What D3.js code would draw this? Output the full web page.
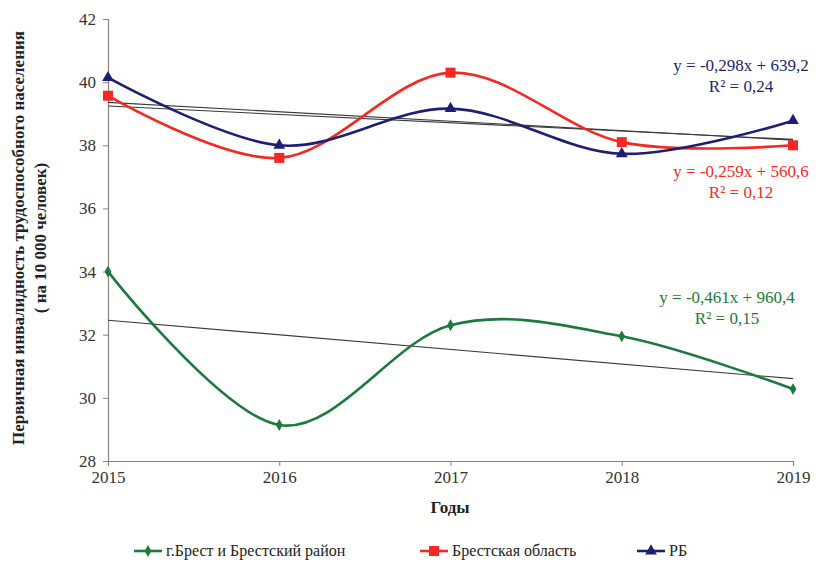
<!DOCTYPE html>
<html>
<head>
<meta charset="utf-8">
<script src="https://cdn.jsdelivr.net/npm/d3@7"></script>
<style>
body{margin:0;background:#fff;}
svg text{font-family:"Liberation Serif","Times New Roman","DejaVu Serif",serif;}
</style>
</head>
<body>
<svg id="chart" width="821" height="566"></svg>
<script>
const years = [2015, 2016, 2017, 2018, 2019];
const brestCity = [34.0, 29.14, 32.3, 31.95, 30.28];
const brestRegion = [39.57, 37.6, 40.3, 38.1, 38.0];
const rb = [40.14, 38.0, 39.16, 37.73, 38.78];
const yTicks = [28, 30, 32, 34, 36, 38, 40, 42];

const series = [
  {name: "г.Брест и Брестский район", values: brestCity, color: "#1b7a3c", marker: "diamond",
   eq: "y = -0,461x + 960,4", r2: "R² = 0,15", lx: 727, ly: 303},
  {name: "Брестская область", values: brestRegion, color: "#f42a22", marker: "square",
   eq: "y = -0,259x + 560,6", r2: "R² = 0,12", lx: 741, ly: 177},
  {name: "РБ", values: rb, color: "#1e1f73", marker: "triangle",
   eq: "y = -0,298x + 639,2", r2: "R² = 0,24", lx: 741, ly: 71}
];

const svg = d3.select("#chart");
const plotL = 108, plotR = 793, plotT = 19, plotB = 461;

const x = d3.scaleLinear().domain([2015, 2019]).range([plotL, plotR]);
const y = d3.scaleLinear().domain([28, 42]).range([plotB, plotT]);

const axisColor = "#8c827c";

// axes
const yAxis = svg.append("g").attr("transform", `translate(${plotL},0)`)
  .call(d3.axisLeft(y).tickValues(yTicks).tickSize(5).tickFormat(d3.format("d")));
const xAxis = svg.append("g").attr("transform", `translate(0,${plotB})`)
  .call(d3.axisBottom(x).tickValues(years).tickSize(5).tickFormat(d3.format("d")));
[yAxis, xAxis].forEach(a => {
  a.attr("font-family", null).attr("font-size", null);
  a.select(".domain").attr("stroke", axisColor).attr("stroke-width", 1.2);
  a.selectAll(".tick line").attr("stroke", axisColor);
  a.selectAll(".tick text").attr("fill", "#333").style("font-size", "17px");
});
yAxis.selectAll(".tick text").attr("x", -12);
xAxis.selectAll(".tick text").attr("y", 10);

// trend lines (least squares from the data)
function fit(vals) {
  const n = vals.length, xm = (n - 1) / 2, ym = d3.mean(vals);
  let sxy = 0, sxx = 0;
  vals.forEach((v, i) => { sxy += (i - xm) * (v - ym); sxx += (i - xm) * (i - xm); });
  const b = sxy / sxx;
  return i => ym + b * (i - xm);
}
series.forEach(s => {
  const f = fit(s.values);
  svg.append("line")
    .attr("x1", x(years[0])).attr("y1", y(f(0)))
    .attr("x2", x(years[4])).attr("y2", y(f(4)))
    .attr("stroke", "#3a3a3a").attr("stroke-width", 1.1);
});

// smooth lines
const line = d3.line()
  .x((d, i) => x(years[i]))
  .y(d => y(d))
  .curve(d3.curveCatmullRom.alpha(0));

function marker(g, type, color, cx, cy) {
  if (type === "square") {
    g.append("rect").attr("x", cx - 5).attr("y", cy - 5).attr("width", 10).attr("height", 10).attr("fill", color);
  } else if (type === "triangle") {
    g.append("path").attr("d", d3.symbol(d3.symbolTriangle, 60)()).attr("transform", `translate(${cx},${cy})`).attr("fill", color);
  } else {
    g.append("path").attr("d", d3.symbol(d3.symbolDiamond, 40)()).attr("transform", `translate(${cx},${cy})`).attr("fill", color);
  }
}

series.forEach(s => {
  svg.append("path").datum(s.values)
    .attr("d", line).attr("fill", "none")
    .attr("stroke", s.color).attr("stroke-width", 2.6);
  const g = svg.append("g");
  s.values.forEach((v, i) => marker(g, s.marker, s.color, x(years[i]), y(v)));
  svg.append("text").attr("x", s.lx).attr("y", s.ly).attr("text-anchor", "middle")
    .attr("fill", s.color).style("font-size", "17px").text(s.eq);
  svg.append("text").attr("x", s.lx).attr("y", s.ly + 21).attr("text-anchor", "middle")
    .attr("fill", s.color).style("font-size", "17px").text(s.r2);
});

// axis titles
svg.append("text").attr("transform", "translate(24,238) rotate(-90)")
  .attr("text-anchor", "middle").style("font-size", "17px").style("font-weight", "bold")
  .attr("fill", "#222").text("Первичная инвалидность трудоспособного населения");
svg.append("text").attr("transform", "translate(46,238) rotate(-90)")
  .attr("text-anchor", "middle").style("font-size", "17px").style("font-weight", "bold")
  .attr("fill", "#222").text("( на 10 000 человек)");
svg.append("text").attr("x", 450).attr("y", 513).attr("text-anchor", "middle")
  .style("font-size", "17px").style("font-weight", "bold").attr("fill", "#222").text("Годы");

// legend
const legendX = [134, 420, 637];
series.forEach((s, i) => {
  const g = svg.append("g").attr("transform", `translate(${legendX[i]},551)`);
  g.append("line").attr("x1", 0).attr("x2", 28).attr("stroke", s.color).attr("stroke-width", 2.6);
  marker(g, s.marker, s.color, 14, 0);
  g.append("text").attr("x", 32).attr("y", 5).style("font-size", "16px").attr("fill", "#222").text(s.name);
});
</script>
</body>
</html>
